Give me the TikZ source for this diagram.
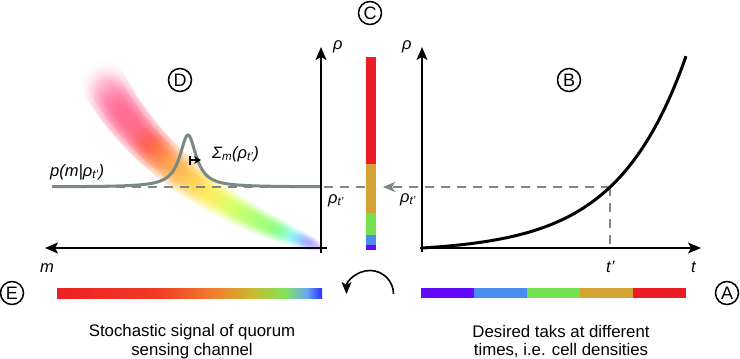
\documentclass[tikz,border=0pt]{standalone}
\usepackage{fontspec}
\setmainfont{Liberation Sans}
\usetikzlibrary{arrows.meta}
\definecolor{gcurve}{RGB}{122,136,136}
\definecolor{cred}{RGB}{237,28,36}
\definecolor{cgold}{RGB}{212,162,50}
\definecolor{cgreen}{RGB}{116,226,80}
\definecolor{cblue}{RGB}{74,140,240}
\definecolor{cpurple}{RGB}{100,10,250}
\definecolor{eR}{RGB}{236,32,36}
\definecolor{eR2}{RGB}{240,60,36}
\definecolor{eO}{RGB}{240,128,48}
\definecolor{eY}{RGB}{200,186,48}
\definecolor{eG}{RGB}{130,226,90}
\definecolor{eL}{RGB}{110,170,240}
\definecolor{eB}{RGB}{40,50,255}
\pgfdeclarehorizontalshading{ebar}{100bp}{color(0bp)=(eR); color(25bp)=(eR); color(44bp)=(eR2); color(55bp)=(eO); color(62bp)=(eY); color(68bp)=(eG); color(72bp)=(eL); color(75bp)=(eB); color(100bp)=(eB)}
\begin{document}
\begin{tikzpicture}[x=1pt,y=-1pt,
  axis/.style={line width=1.6pt,-{Stealth[length=13pt,width=11pt,inset=3pt]}},
  lab/.style={font=\fontsize{16.5}{16.5}\selectfont\itshape, inner sep=0pt},
  circ/.style={circle,draw,line width=1.5pt,minimum size=23pt,inner sep=0pt,font=\fontsize{18}{18}\selectfont},
  dsh/.style={gcurve,line width=1.5pt,dash pattern=on 9pt off 7pt},
  capt/.style={font=\fontsize{16.8}{18.5}\selectfont, align=center, inner sep=0pt}]
\useasboundingbox (0,0) rectangle (740,359);

% plume
\foreach \i in {0,...,160}{
  \pgfmathsetmacro\t{\i/160}
  \pgfmathsetmacro\px{104*(1-\t)^2+2*165*\t*(1-\t)+320*\t^2}
  \pgfmathsetmacro\py{84*(1-\t)^2+2*192*\t*(1-\t)+247*\t^2}
  \pgfmathsetmacro\w{3+20*(1.0001-\t)^0.45}
  \pgfmathsetmacro\op{0.03*min(1,0.35+5*\t)}
  \pgfmathsetmacro\sat{\t<0.3 ? 0.68 : 0.85}
  \pgfmathsetmacro\hh{\t<0.25 ? 335+10*\t/0.25 : (\t<0.38 ? 345+40*(\t-0.25)/0.13 : (\t<0.62 ? 385+33*(\t-0.38)/0.24 : (\t<0.85 ? 418+52*(\t-0.62)/0.23 : 470+175*(\t-0.85)/0.15)))}
  \pgfmathsetmacro\hm{mod(\hh,360)}
  \definecolor{plc}{Hsb}{\hm,\sat,1}
  \fill[plc, opacity=\op] (\px,\py) circle (\w);
  \fill[plc, opacity=\op] (\px,\py) circle ({0.75*\w});
  \fill[plc, opacity=\op] (\px,\py) circle ({0.5*\w});
}

% coordinates
\coordinate (Lo) at (321,248);
\coordinate (Ro) at (422,248);
\coordinate (tp) at (610,187);
\coordinate (tb) at (610,248);
\coordinate (cb) at (383,187);
\coordinate (dl) at (52,187);
\coordinate (dr) at (366,187);

% dashed lines
\draw[dsh] (dl) -- (dr);
\draw[dsh,-{Stealth[length=12pt,width=10pt,inset=3pt]}] (tp) -- (cb);
\draw[dsh] (tp) -- (tb);

% gray curve D
\draw[gcurve, line width=3pt] plot[domain=52:321, samples=250] (\x, {187-52/(1+((\x-188)/10)^2)});
\coordinate (sa) at (189,160);
\coordinate (sb) at (201,160);
\draw[line width=1.6pt, {Bar[width=9pt]}-{Stealth[length=7pt,width=8pt]}] (sa) -- (sb);

% axes left
\draw[axis] (321,253) -- (321,47);
\draw[axis] (327,248) -- (45,248);
% axes right
\draw[axis] (422,252) -- (422,47);
\draw[axis] (420,248) -- (701,248);

% curve B
\draw[line width=3pt] plot[domain=0:264, samples=120] ({422+\x},{248-4.27*(exp(0.0145*\x)-1)});

% color bar C
\fill[cred] (366,57) rectangle (376,164);
\fill[cgold] (366,164) rectangle (376,213);
\fill[cgreen] (366,213) rectangle (376,235);
\fill[cblue] (366,235) rectangle (376,245);
\fill[cpurple] (366,245) rectangle (376,250);

% bar E
\shade[shading=ebar] (57,288) rectangle (322,298);
% bar A
\fill[cpurple] (421,288) rectangle (474,298);
\fill[cblue] (474,288) rectangle (527,298);
\fill[cgreen] (527,288) rectangle (580,298);
\fill[cgold] (580,288) rectangle (633,298);
\fill[cred] (633,288) rectangle (686,298);

% curved arrow
\draw[line width=1.6pt, -{Stealth[length=12pt,width=10pt,inset=3pt]}] (393.5,294) arc[start angle=0, end angle=-180, radius=23.5];

% labels
\node[lab, anchor=base west] (rhoL) at (333,49) {ρ};
\node[lab, anchor=base west] (rhoR) at (402,49) {ρ};
\node[lab, anchor=base west] (rtL) at (328,203) {ρ\textsubscript{t’}};
\node[lab, anchor=base west] (rtR) at (400,202) {ρ\textsubscript{t’}};
\node[lab, anchor=base west] (sig) at (212,158) {Σ\textsubscript{m}(ρ\textsubscript{t’})};
\node[lab, anchor=base west] (pm) at (50,176) {p(m|ρ\textsubscript{t’})};
\node[lab, anchor=base west] (mlab) at (40,272) {m};
\node[lab, anchor=base west] (tlab) at (691,272) {t};
\node[lab, anchor=base west] (tplab) at (606,272) {t’};

% circled letters
\node[circ] (cD) at (180,80) {D};
\node[circ] (cC) at (370,13) {C};
\node[circ] (cB) at (569,80) {B};
\node[circ] (cE) at (12,293) {E};
\node[circ] (cA) at (727,293) {A};

% captions
\node[capt] (capE) at (192,341.5) {Stochastic signal of quorum\\sensing channel};
\node[capt] (capA) at (561,341.5) {Desired taks at different\\times, i.e. cell densities};
\end{tikzpicture}
\end{document}
